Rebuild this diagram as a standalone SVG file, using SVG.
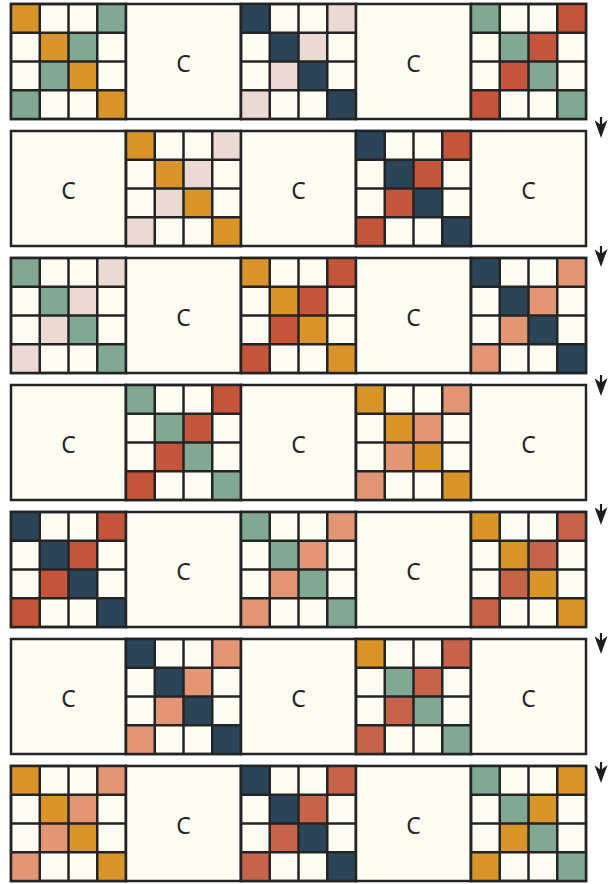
<svg xmlns="http://www.w3.org/2000/svg" xmlns:xlink="http://www.w3.org/1999/xlink" width="613" height="884" viewBox="0 0 613 884">
<style>
.bg{fill:#FEFDF3;stroke:#242424;stroke-width:2.5}
.ln{stroke:#242424;stroke-width:2.5;fill:none}
.lbl{font-family:"Noto Sans","DejaVu Sans",sans-serif;font-size:23px;fill:#242424;text-anchor:middle}
.arw{stroke:#1e1e1e;stroke-width:2.2;fill:none}
</style>
<defs>
<g id="dg"><rect x="0" y="0" width="28.75" height="28.75"/><rect x="28.75" y="28.75" width="28.75" height="28.75"/><rect x="57.5" y="57.5" width="28.75" height="28.75"/><rect x="86.25" y="86.25" width="28.75" height="28.75"/></g>
<g id="ad"><rect x="86.25" y="0" width="28.75" height="28.75"/><rect x="57.5" y="28.75" width="28.75" height="28.75"/><rect x="28.75" y="57.5" width="28.75" height="28.75"/><rect x="0" y="86.25" width="28.75" height="28.75"/></g>
<g id="gl"><path class="ln" d="M28.75,0V115M57.5,0V115M86.25,0V115M0,28.75H115M0,57.5H115M0,86.25H115"/><rect class="ln" x="0" y="0" width="115" height="115"/></g>
<g id="cb"><rect class="bg" x="0" y="0" width="115" height="115"/><text class="lbl" x="57.5" y="67.5">C</text></g>
<marker id="ah" viewBox="0 0 18 13" refX="12" refY="6.5" markerWidth="18" markerHeight="13" markerUnits="userSpaceOnUse" orient="auto"><path d="M0,0 L18,6.5 L0,13 L5,6.5 z" fill="#1e1e1e"/></marker>
</defs>

<g id="row1">
<g id="r1g1" transform="translate(11,4)"><rect class="bg" width="115" height="115"/><use xlink:href="#dg" fill="#D9952A"/><use xlink:href="#ad" fill="#80A893"/><use xlink:href="#gl"/></g>
<g id="r1c1" transform="translate(126,4)"><use xlink:href="#cb"/></g>
<g id="r1g2" transform="translate(241,4)"><rect class="bg" width="115" height="115"/><use xlink:href="#dg" fill="#2B4458"/><use xlink:href="#ad" fill="#EBDAD3"/><use xlink:href="#gl"/></g>
<g id="r1c2" transform="translate(356,4)"><use xlink:href="#cb"/></g>
<g id="r1g3" transform="translate(471,4)"><rect class="bg" width="115" height="115"/><use xlink:href="#dg" fill="#80A893"/><use xlink:href="#ad" fill="#C4553A"/><use xlink:href="#gl"/></g>
</g>

<g id="row2">
<g id="r2c1" transform="translate(11,131)"><use xlink:href="#cb"/></g>
<g id="r2g1" transform="translate(126,131)"><rect class="bg" width="115" height="115"/><use xlink:href="#dg" fill="#D9952A"/><use xlink:href="#ad" fill="#EBDAD3"/><use xlink:href="#gl"/></g>
<g id="r2c2" transform="translate(241,131)"><use xlink:href="#cb"/></g>
<g id="r2g2" transform="translate(356,131)"><rect class="bg" width="115" height="115"/><use xlink:href="#dg" fill="#2B4458"/><use xlink:href="#ad" fill="#C4553A"/><use xlink:href="#gl"/></g>
<g id="r2c3" transform="translate(471,131)"><use xlink:href="#cb"/></g>
</g>

<g id="row3">
<g id="r3g1" transform="translate(11,258)"><rect class="bg" width="115" height="115"/><use xlink:href="#dg" fill="#80A893"/><use xlink:href="#ad" fill="#EBDAD3"/><use xlink:href="#gl"/></g>
<g id="r3c1" transform="translate(126,258)"><use xlink:href="#cb"/></g>
<g id="r3g2" transform="translate(241,258)"><rect class="bg" width="115" height="115"/><use xlink:href="#dg" fill="#D9952A"/><use xlink:href="#ad" fill="#C4553A"/><use xlink:href="#gl"/></g>
<g id="r3c2" transform="translate(356,258)"><use xlink:href="#cb"/></g>
<g id="r3g3" transform="translate(471,258)"><rect class="bg" width="115" height="115"/><use xlink:href="#dg" fill="#2B4458"/><use xlink:href="#ad" fill="#E39676"/><use xlink:href="#gl"/></g>
</g>

<g id="row4">
<g id="r4c1" transform="translate(11,385)"><use xlink:href="#cb"/></g>
<g id="r4g1" transform="translate(126,385)"><rect class="bg" width="115" height="115"/><use xlink:href="#dg" fill="#80A893"/><use xlink:href="#ad" fill="#C4553A"/><use xlink:href="#gl"/></g>
<g id="r4c2" transform="translate(241,385)"><use xlink:href="#cb"/></g>
<g id="r4g2" transform="translate(356,385)"><rect class="bg" width="115" height="115"/><use xlink:href="#dg" fill="#D9952A"/><use xlink:href="#ad" fill="#E39676"/><use xlink:href="#gl"/></g>
<g id="r4c3" transform="translate(471,385)"><use xlink:href="#cb"/></g>
</g>

<g id="row5">
<g id="r5g1" transform="translate(11,512)"><rect class="bg" width="115" height="115"/><use xlink:href="#dg" fill="#2B4458"/><use xlink:href="#ad" fill="#C4553A"/><use xlink:href="#gl"/></g>
<g id="r5c1" transform="translate(126,512)"><use xlink:href="#cb"/></g>
<g id="r5g2" transform="translate(241,512)"><rect class="bg" width="115" height="115"/><use xlink:href="#dg" fill="#80A893"/><use xlink:href="#ad" fill="#E39676"/><use xlink:href="#gl"/></g>
<g id="r5c2" transform="translate(356,512)"><use xlink:href="#cb"/></g>
<g id="r5g3" transform="translate(471,512)"><rect class="bg" width="115" height="115"/><use xlink:href="#dg" fill="#D9952A"/><use xlink:href="#ad" fill="#C6634A"/><use xlink:href="#gl"/></g>
</g>

<g id="row6">
<g id="r6c1" transform="translate(11,639)"><use xlink:href="#cb"/></g>
<g id="r6g1" transform="translate(126,639)"><rect class="bg" width="115" height="115"/><use xlink:href="#dg" fill="#2B4458"/><use xlink:href="#ad" fill="#E39676"/><use xlink:href="#gl"/></g>
<g id="r6c2" transform="translate(241,639)"><use xlink:href="#cb"/></g>
<g id="r6g2" transform="translate(356,639)"><rect class="bg" width="115" height="115"/><use xlink:href="#dg" fill="#80A893"/><use xlink:href="#ad" fill="#C6634A"/><rect x="0" y="0" width="28.75" height="28.75" fill="#D9952A"/><use xlink:href="#gl"/></g>
<g id="r6c3" transform="translate(471,639)"><use xlink:href="#cb"/></g>
</g>

<g id="row7">
<g id="r7g1" transform="translate(11,766)"><rect class="bg" width="115" height="115"/><use xlink:href="#dg" fill="#D9952A"/><use xlink:href="#ad" fill="#E39676"/><use xlink:href="#gl"/></g>
<g id="r7c1" transform="translate(126,766)"><use xlink:href="#cb"/></g>
<g id="r7g2" transform="translate(241,766)"><rect class="bg" width="115" height="115"/><use xlink:href="#dg" fill="#2B4458"/><use xlink:href="#ad" fill="#C6634A"/><use xlink:href="#gl"/></g>
<g id="r7c2" transform="translate(356,766)"><use xlink:href="#cb"/></g>
<g id="r7g3" transform="translate(471,766)"><rect class="bg" width="115" height="115"/><use xlink:href="#dg" fill="#80A893"/><use xlink:href="#ad" fill="#D9952A"/><use xlink:href="#gl"/></g>
</g>

<g id="connectors">
<path class="arw" marker-end="url(#ah)" d="M601,117V132"/>
<path class="arw" marker-end="url(#ah)" d="M601,246V261"/>
<path class="arw" marker-end="url(#ah)" d="M601,375V390"/>
<path class="arw" marker-end="url(#ah)" d="M601,504V519"/>
<path class="arw" marker-end="url(#ah)" d="M601,633V648"/>
<path class="arw" marker-end="url(#ah)" d="M601,762V777"/>
</g>
</svg>
